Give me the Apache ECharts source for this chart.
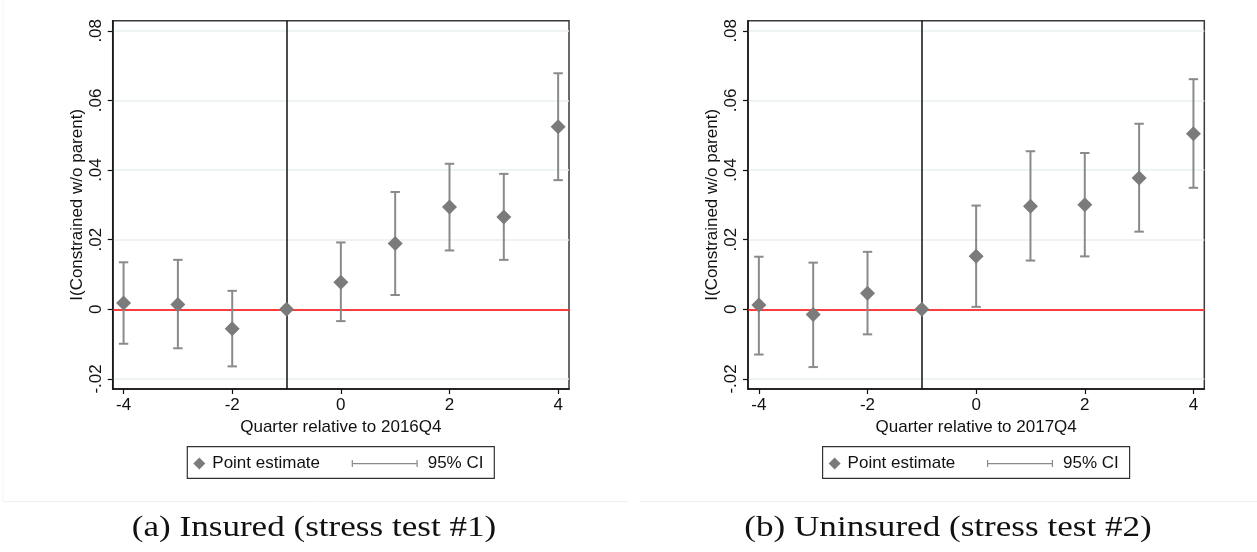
<!DOCTYPE html>
<html>
<head>
<meta charset="utf-8">
<title>Event study: constrained w/o parent</title>
<script src="https://cdn.jsdelivr.net/npm/echarts@6/dist/echarts.min.js"></script>
<style>
  html, body { margin: 0; padding: 0; background: #fff; }
  #main { width: 1257px; height: 552px; }
</style>
</head>
<body>
<div id="main"></div>
<script>
// data
var quarters = [-4, -3, -2, -1, 0, 1, 2, 3, 4];
var xTicks = [-4, -2, 0, 2, 4];
var yTicks = [-0.02, 0, 0.02, 0.04, 0.06, 0.08];

// (a) insured, stress test #1
var insuredEst = [0.0018, 0.0014, -0.0056, 0, 0.0078, 0.0189, 0.0294, 0.0265, 0.0524];
var insuredLo = [-0.0099, -0.0112, -0.0164, null, -0.0034, 0.0041, 0.0169, 0.0142, 0.0371];
var insuredHi = [0.0135, 0.0142, 0.0053, null, 0.0192, 0.0337, 0.0418, 0.0389, 0.0678];

// (b) uninsured, stress test #2
var uninsuredEst = [0.0012, -0.0015, 0.0046, 0, 0.0152, 0.0296, 0.0300, 0.0377, 0.0504];
var uninsuredLo = [-0.0130, -0.0166, -0.0072, null, 0.0007, 0.0140, 0.0152, 0.0223, 0.0349];
var uninsuredHi = [0.0151, 0.0134, 0.0165, null, 0.0298, 0.0454, 0.0449, 0.0533, 0.0661];

var FONT = "'Liberation Sans', Arial, sans-serif";
var ciIcon = 'path://M0,0h1.2v7h-1.2z M0,3h66v1.2h-66z M64.8,0h1.2v7h-1.2z';

function fmtY(v) {
    if (Math.abs(v) < 1e-9) return '0';
    var s = String(Math.round(v * 100) / 100);
    return s.replace('0.', '.');
}

function buildPanel(i, dx, xTitle, est, lo, hi) {
    var pts = [], bars = [];
    for (var k = 0; k < quarters.length; k++) {
        pts.push([quarters[k], est[k]]);
        if (lo[k] !== null) bars.push([quarters[k], lo[k], hi[k]]);
    }

    var grid = {
        left: 112.7 + dx, top: 20.7, width: 456.3, height: 368.3,
        show: true, borderColor: '#3a3a3a', borderWidth: 1.5, backgroundColor: '#fff'
    };

    var xAxis = {
        gridIndex: i, type: 'value', min: -4.2, max: 4.2,
        name: xTitle, nameLocation: 'middle', nameGap: 28,
        nameTextStyle: {fontFamily: FONT, fontSize: 17, color: '#111'},
        axisLine: {show: true, onZero: false, lineStyle: {color: '#111', width: 1.5}},
        axisTick: {show: true, length: 5, customValues: xTicks, lineStyle: {color: '#111', width: 1.2}},
        axisLabel: {customValues: xTicks, margin: 8, fontFamily: FONT, fontSize: 17, color: '#111'},
        splitLine: {show: false}
    };

    var yAxis = {
        gridIndex: i, type: 'value', min: -0.0229, max: 0.0829,
        name: 'I(Constrained w/o parent)', nameLocation: 'middle', nameGap: 27,
        nameTextStyle: {fontFamily: FONT, fontSize: 17, color: '#111'},
        axisLine: {show: true, onZero: false, lineStyle: {color: '#111', width: 1.5}},
        axisTick: {show: true, length: 5, customValues: yTicks, lineStyle: {color: '#111', width: 1.2}},
        axisLabel: {customValues: yTicks, rotate: 90, margin: 8, fontFamily: FONT, fontSize: 17,
            color: '#111', formatter: fmtY},
        splitLine: {show: true, lineStyle: {color: '#e9f0f1', width: 1.5}}
    };

    var series = [{
        name: '95% CI',
        type: 'custom',
        xAxisIndex: i, yAxisIndex: i,
        z: 3,
        itemStyle: {color: '#8a8a8a'},
        data: bars,
        renderItem: function (params, api) {
            var top = api.coord([api.value(0), api.value(2)]);
            var bot = api.coord([api.value(0), api.value(1)]);
            var w = 4.7;
            var st = {stroke: '#8a8a8a', lineWidth: 2};
            return {
                type: 'group',
                children: [
                    {type: 'line', shape: {x1: top[0], y1: top[1], x2: bot[0], y2: bot[1]}, style: st},
                    {type: 'line', shape: {x1: top[0] - w, y1: top[1], x2: top[0] + w, y2: top[1]}, style: st},
                    {type: 'line', shape: {x1: bot[0] - w, y1: bot[1], x2: bot[0] + w, y2: bot[1]}, style: st}
                ]
            };
        }
    }, {
        name: 'Point estimate',
        type: 'scatter',
        xAxisIndex: i, yAxisIndex: i,
        z: 4,
        symbol: 'diamond',
        symbolSize: [15, 15],
        itemStyle: {color: '#7b7b7b', opacity: 1},
        data: pts,
        markLine: {
            silent: true, symbol: 'none', z: 2,
            label: {show: false},
            emphasis: {disabled: true},
            data: [
                {yAxis: 0, lineStyle: {color: '#ff0000', width: 1.5, type: 'solid'}},
                {xAxis: -1, lineStyle: {color: '#111', width: 1.5, type: 'solid'}}
            ]
        }
    }];

    var legends = [{
        left: 193.3 + dx, top: 455, padding: 0,
        selectedMode: false,
        itemWidth: 12, itemHeight: 12,
        textStyle: {fontFamily: FONT, fontSize: 17, color: '#111', padding: [0, 0, 0, 2]},
        data: [{name: 'Point estimate', icon: 'diamond', itemStyle: {color: '#7b7b7b'}}]
    }, {
        left: 351.7 + dx, top: 455, padding: 0,
        selectedMode: false,
        itemWidth: 66, itemHeight: 7,
        textStyle: {fontFamily: FONT, fontSize: 17, color: '#111', padding: [0, 0, 0, 5]},
        data: [{name: '95% CI', icon: ciIcon, itemStyle: {color: '#8a8a8a'}}]
    }];

    var graphics = [{
        type: 'rect', z: -1,
        shape: {x: 187.3 + dx, y: 446.7, width: 307, height: 31.6},
        style: {fill: '#fff', stroke: '#333', lineWidth: 1.2}
    }];

    return {grid: grid, xAxis: xAxis, yAxis: yAxis, series: series, legends: legends, graphics: graphics};
}

function show() {
    var chartDom = document.getElementById('main');
    var myChart = echarts.init(chartDom);

    var a = buildPanel(0, 0, 'Quarter relative to 2016Q4', insuredEst, insuredLo, insuredHi);
    var b = buildPanel(1, 635.3, 'Quarter relative to 2017Q4', uninsuredEst, uninsuredLo, uninsuredHi);

    // faint frames around the two graph images + LaTeX captions
    var deco = [
        {type: 'line', shape: {x1: 3, y1: 501.5, x2: 628, y2: 501.5}, style: {stroke: '#edf1f1', lineWidth: 1}},
        {type: 'line', shape: {x1: 639, y1: 501.5, x2: 1257, y2: 501.5}, style: {stroke: '#edf1f1', lineWidth: 1}},
        {type: 'line', shape: {x1: 3, y1: 0, x2: 3, y2: 501.5}, style: {stroke: '#f1f4f4', lineWidth: 1}},
        {type: 'text', x: 314, y: 528, scaleX: 1.21,
            style: {text: '(a) Insured (stress test #1)', x: 0, y: 0, textAlign: 'center', textVerticalAlign: 'middle',
                fontFamily: "'Liberation Serif', 'Times New Roman', serif", fontSize: 29, fill: '#111'}},
        {type: 'text', x: 948, y: 528, scaleX: 1.21,
            style: {text: '(b) Uninsured (stress test #2)', x: 0, y: 0, textAlign: 'center', textVerticalAlign: 'middle',
                fontFamily: "'Liberation Serif', 'Times New Roman', serif", fontSize: 29, fill: '#111'}}
    ];

    var option = {
        backgroundColor: '#fff',
        animation: false,
        grid: [a.grid, b.grid],
        xAxis: [a.xAxis, b.xAxis],
        yAxis: [a.yAxis, b.yAxis],
        legend: a.legends.concat(b.legends),
        graphic: a.graphics.concat(b.graphics).concat(deco),
        series: a.series.concat(b.series)
    };

    myChart.setOption(option);
}

show();
</script>
</body>
</html>
